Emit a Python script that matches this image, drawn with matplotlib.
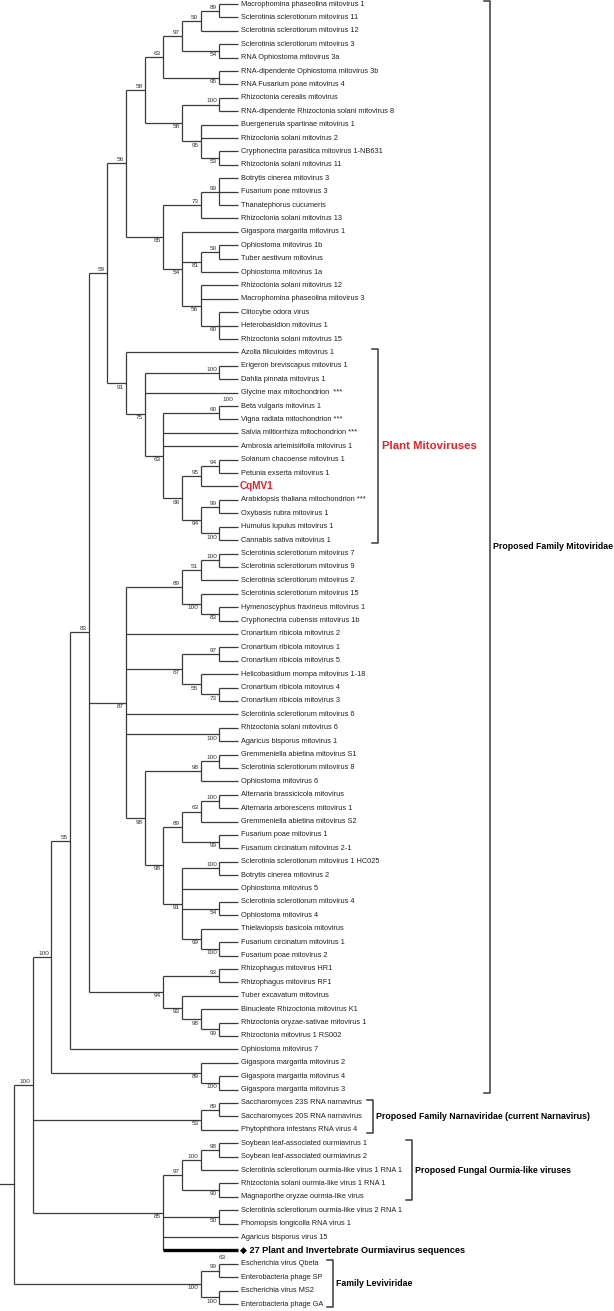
import matplotlib
matplotlib.use("Agg")
import matplotlib.pyplot as plt

leaves = [
    "Macrophomina phaseolina mitovirus 1",
    "Sclerotinia sclerotiorum mitovirus 11",
    "Sclerotinia sclerotiorum mitovirus 12",
    "Sclerotinia sclerotiorum mitovirus 3",
    "RNA Ophiostoma mitovirus 3a",
    "RNA-dipendente Ophiostoma mitovirus 3b",
    "RNA Fusarium poae mitovirus 4",
    "Rhizoctonia cerealis mitovirus",
    "RNA-dipendente Rhizoctonia solani mitovirus 8",
    "Buergenerula spartinae mitovirus 1",
    "Rhizoctonia solani mitovirus 2",
    "Cryphonectria parasitica mitovirus 1-NB631",
    "Rhizoctonia solani mitovirus 11",
    "Botrytis cinerea mitovirus 3",
    "Fusarium poae mitovirus 3",
    "Thanatephorus cucumeris",
    "Rhizoctonia solani mitovirus 13",
    "Gigaspora margarita mitovirus 1",
    "Ophiostoma mitovirus 1b",
    "Tuber aestivum mitovirus",
    "Ophiostoma mitovirus 1a",
    "Rhizoctonia solani mitovirus 12",
    "Macrophomina phaseolina mitovirus 3",
    "Clitocybe odora virus",
    "Heterobasidion mitovirus 1",
    "Rhizoctonia solani mitovirus 15",
    "Azolla filiculoides mitovirus 1",
    "Erigeron breviscapus mitovirus 1",
    "Dahlia pinnata mitovirus 1",
    "Glycine max mitochondrion  ***",
    "Beta vulgaris mitovirus 1",
    "Vigna radiata mitochondrion ***",
    "Salvia miltiorrhiza mitochondrion ***",
    "Ambrosia artemisiifolia mitovirus 1",
    "Solanum chacoense mitovirus 1",
    "Petunia exserta mitovirus 1",
    "CqMV1",
    "Arabidopsis thaliana mitochondrion ***",
    "Oxybasis rubra mitovirus 1",
    "Humulus lupulus mitovirus 1",
    "Cannabis sativa mitovirus 1",
    "Sclerotinia sclerotiorum mitovirus 7",
    "Sclerotinia sclerotiorum mitovirus 9",
    "Sclerotinia sclerotiorum mitovirus 2",
    "Sclerotinia sclerotiorum mitovirus 15",
    "Hymenoscyphus fraxineus mitovirus 1",
    "Cryphonectria cubensis mitovirus 1b",
    "Cronartium ribicola mitovirus 2",
    "Cronartium ribicola mitovirus 1",
    "Cronartium ribicola mitovirus 5",
    "Helicobasidium mompa mitovirus 1-18",
    "Cronartium ribicola mitovirus 4",
    "Cronartium ribicola mitovirus 3",
    "Sclerotinia sclerotiorum mitovirus 6",
    "Rhizoctonia solani mitovirus 6",
    "Agaricus bisporus mitovirus 1",
    "Gremmeniella abietina mitovirus S1",
    "Sclerotinia sclerotiorum mitovirus 8",
    "Ophiostoma mitovirus 6",
    "Alternaria brassicicola mitovirus",
    "Alternaria arborescens mitovirus 1",
    "Gremmeniella abietina mitovirus S2",
    "Fusarium poae mitovirus 1",
    "Fusarium circinatum mitovirus 2-1",
    "Sclerotinia sclerotiorum mitovirus 1 HC025",
    "Botrytis cinerea mitovirus 2",
    "Ophiostoma mitovirus 5",
    "Sclerotinia sclerotiorum mitovirus 4",
    "Ophiostoma mitovirus 4",
    "Thielaviopsis basicola mitovirus",
    "Fusarium circinatum mitovirus 1",
    "Fusarium poae mitovirus 2",
    "Rhizophagus mitovirus HR1",
    "Rhizophagus mitovirus RF1",
    "Tuber excavatum mitovirus",
    "Binucleate Rhizoctonia mitovirus K1",
    "Rhizoctonia oryzae-sativae mitovirus 1",
    "Rhizoctonia mitovirus 1 RS002",
    "Ophiostoma mitovirus 7",
    "Gigaspora margarita mitovirus 2",
    "Gigaspora margarita mitovirus 4",
    "Gigaspora margarita mitovirus 3",
    "Saccharomyces 23S RNA narnavirus",
    "Saccharomyces 20S RNA narnavirus",
    "Phytophthora infestans RNA virus 4",
    "Soybean leaf-associated ourmiavirus 1",
    "Soybean leaf-associated ourmiavirus 2",
    "Sclerotinia sclerotiorum ourmia-like virus 1 RNA 1",
    "Rhizoctonia solani ourmia-like virus 1 RNA 1",
    "Magnaporthe oryzae ourmia-like virus",
    "Sclerotinia sclerotiorum ourmia-like virus 2 RNA 1",
    "Phomopsis longicolla RNA virus 1",
    "Agaricus bisporus virus 15",
    "27 Plant and Invertebrate Ourmiavirus sequences",
    "Escherichia virus Qbeta",
    "Enterobacteria phage SP",
    "Escherichia virus MS2",
    "Enterobacteria phage GA",
]

# topology in newick, numbers are indexes into leaves, numbers after ")" are bootstrap values
clade_a = "(((((0,1)89,2)50,(3,4)54)97,(5,6)95)63,((7,8)100,(9,10,(11,12)53)95)58)58"
clade_b = "(((13,14,15)99,16)73,(17,((18,19)50,20)81,(21,22,(23,24,25)60)56)54)65"
clade_plant = ("(26,((27,28)100,29,((30,31)60,32,33,(((34,35)94,36)95,"
               "((37,38)99,(39,40)100)94)66)63)75)91")
clade_c = ("((((41,42)100,43)51,(44,(45,46)83)100)89,47,((48,49)97,(50,(51,52)73)55)67,"
           "53,(54,55)100,(((56,57)100,58)98,((((59,60)100,61)63,(62,63)99)89,"
           "((64,65)100,66,(67,68)54,(69,(70,71)100)99)91)98)98)87")
clade_d = "((72,73)93,(74,(75,(76,77)99)98)93)94"
clade_narna = "((82,83)89,84)53"
clade_ourmia = "((((85,86)98,87)100,(88,89)90)97,(90,91)50,92,93)85"
clade_levi = "((94,95)99,(96,97)100)100"

mito = "(((((" + clade_a + "," + clade_b + ")56," + clade_plant + ")59," + clade_c + "," + \
       clade_d + ")83,78)55,(79,(80,81)100)89)100"
tree = "((" + mito + "," + clade_narna + "," + clade_ourmia + ")100," + clade_levi + ");"

groups = [
    ("Plant Mitoviruses", 26, 40),
    ("Proposed Family Mitoviridae", 0, 81),
    ("Proposed Family Narnaviridae (current Narnavirus)", 82, 84),
    ("Proposed Fungal Ourmia-like viruses", 85, 89),
    ("Family Leviviridae", 94, 97),
]
# extra support values printed beside single branches
extra_labels = [("100", 30), ("63", 93)]

cqmv = 36
collapsed = 93

RED = "#e8202a"
LINE = "#3a3a3a"
bracket_x = {"Plant Mitoviruses": 19.5, "Proposed Family Mitoviridae": 25.5,
             "Proposed Family Narnaviridae (current Narnavirus)": 19.23,
             "Proposed Fungal Ourmia-like viruses": 21.32, "Family Leviviridae": 17.09}

plt.rcParams['font.family'] = ['Liberation Sans', 'DejaVu Sans']


def parse(s):
    pos = 0

    def node():
        nonlocal pos
        if s[pos] == '(':
            pos += 1
            kids = [node()]
            while s[pos] == ',':
                pos += 1
                kids.append(node())
            pos += 1
            start = pos
            while s[pos] not in ',();':
                pos += 1
            return {'kids': kids, 'label': s[start:pos]}
        start = pos
        while s[pos] not in ',()':
            pos += 1
        return int(s[start:pos])
    return node()


def height(n):
    if isinstance(n, int):
        return 0
    return 1 + max(height(k) for k in n['kids'])


root = parse(tree)
H = height(root)


def layout(n):
    if isinstance(n, int):
        return H, n
    pts = [layout(k) for k in n['kids']]
    n['pts'] = pts
    n['x'] = H - height(n)
    n['y'] = (pts[0][1] + pts[-1][1]) / 2
    return n['x'], n['y']


layout(root)

fig = plt.figure(figsize=(6.14, 13.11), dpi=100)
ax = fig.add_axes([0, 0, 1, 1])
ax.set_xlim(-0.75, 32.14)
ax.set_ylim(97.52, -0.30)
ax.axis('off')


def draw(n, first=True):
    if isinstance(n, int):
        return
    x, y = n['x'], n['y']
    ax.plot([x, x], [n['pts'][0][1], n['pts'][-1][1]], color=LINE, lw=0.9,
            solid_capstyle='butt')
    for k, (kx, ky) in zip(n['kids'], n['pts']):
        lw = 2.4 if k == collapsed else 0.9
        col = 'black' if k == collapsed else LINE
        ax.plot([x, kx], [ky, ky], color=col, lw=lw, solid_capstyle='butt')
    if n['label']:
        if first:
            ax.text(x - 0.12, y - 0.08, n['label'], ha='right', va='bottom',
                    fontsize=4.6, color='#333333')
        else:
            ax.text(x - 0.12, y + 0.1, n['label'], ha='right', va='top',
                    fontsize=4.6, color='#333333')
    for i, k in enumerate(n['kids']):
        draw(k, i == 0)


draw(root)
ax.plot([-0.75, 0], [root['y'], root['y']], color=LINE, lw=0.9)

for i, name in enumerate(leaves):
    if i == cqmv:
        ax.text(H + 0.1, i, name, ha='left', va='center', fontsize=7.2,
                fontweight='bold', color=RED)
    elif i == collapsed:
        ax.text(H + 0.1, i, "\u25c6 " + name, ha='left', va='center', fontsize=6.6,
                fontweight='bold', color='black')
    else:
        ax.text(H + 0.16, i, name, ha='left', va='center', fontsize=5.3,
                color='#222222')

ax.text(H - 0.55, extra_labels[0][1] - 0.3, extra_labels[0][0], ha='center',
        va='bottom', fontsize=4.6, color='#333333')
ax.text(H - 0.85, extra_labels[1][1] + 0.55, extra_labels[1][0], ha='center',
        va='center', fontsize=4.6, color='#333333')

for name, a, b in groups:
    xb = bracket_x[name]
    y0, y1 = a - 0.25, b + 0.25
    ax.plot([xb - 0.3, xb, xb, xb - 0.3], [y0, y0, y1, y1], color=LINE, lw=1.1)
    if name == "Plant Mitoviruses":
        ax.text(xb + 0.2, (a + b) / 2, name, ha='left', va='center', fontsize=8.2,
                fontweight='bold', color=RED)
    else:
        ax.text(xb + 0.15, (a + b) / 2, name, ha='left', va='center', fontsize=6.3,
                fontweight='bold', color='black')

fig.savefig("out.png", dpi=100)
